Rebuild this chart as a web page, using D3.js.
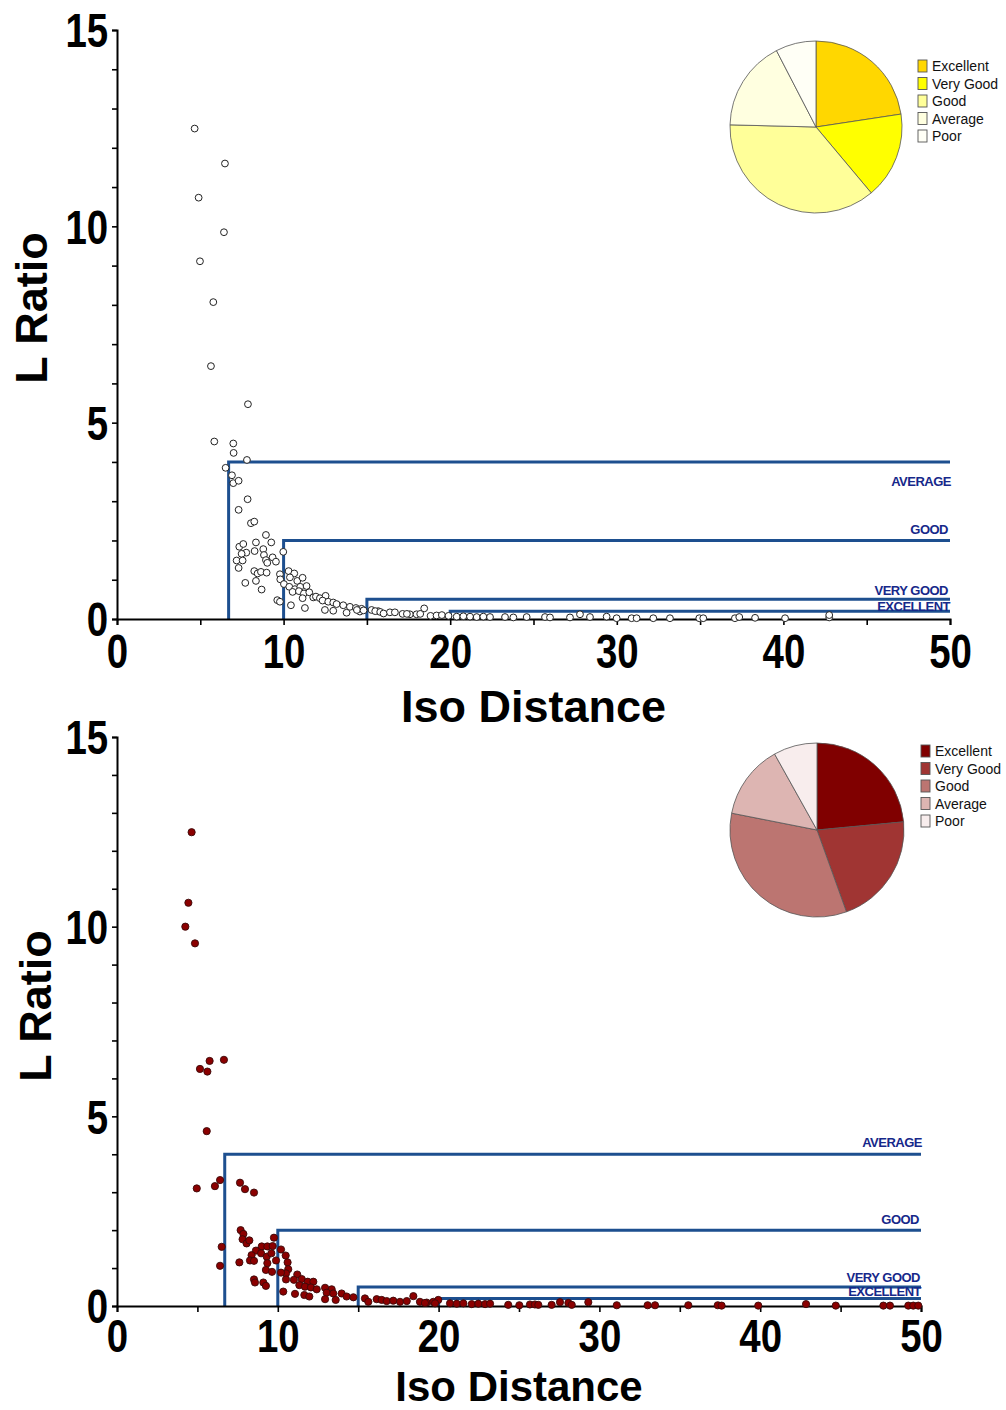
<!DOCTYPE html>
<html><head><meta charset="utf-8">
<script src="https://cdn.jsdelivr.net/npm/d3@7"></script>
<style>
html,body{margin:0;padding:0;background:#fff;}
svg{display:block;font-family:"Liberation Sans",Arial,Helvetica,sans-serif;}
</style></head>
<body><svg id="chart" width="1006" height="1410"></svg>
<script>
// ---------- DATA ----------
const qualityCategories = ["Excellent","Very Good","Good","Average","Poor"];
const thresholdIso = [6.7, 10, 15, 20];
const thresholdL = [4, 2, 0.5, 0.2];
const thresholdLabels = ["AVERAGE","GOOD","VERY GOOD","EXCELLENT"];
const xTicks = [0,5,10,15,20,25,30,35,40,45,50];
const yTicks = [0,1,2,3,4,5,6,7,8,9,10,11,12,13,14,15];

const topPieShares = [0.226, 0.163, 0.365, 0.170, 0.076];
const topPieColors = ["#FFD700","#FFFF00","#FFFF99","#FFFFE0","#FFFFF6"];
const botPieShares = [0.235, 0.210, 0.336, 0.138, 0.081];
const botPieColors = ["#800000","#A03533","#BC7571","#DDB5B2","#F8EDED"];

const topIso = [4.66,6.48,4.9,6.42,4.98,5.78,5.64,7.86,5.84,6.98,7.0,7.8,6.52,6.9,6.98,7.3,7.84,7.3,8.04,8.24,8.94,9.26,7.34,7.58,8.34,7.76,7.48,8.78,8.82,8.26,8.94,9.34,9.54,7.18,7.54,7.3,9.02,8.24,8.44,8.64,8.98,7.7,8.34,8.68,9.98,9.78,9.8,10.3,10.64,10.38,10.82,11.14,10.02,10.34,10.68,11.0,11.38,10.54,10.92,11.22,11.54,11.78,11.94,12.18,12.52,11.14,12.34,12.68,12.98,13.18,13.58,13.98,14.34,14.68,9.62,9.78,10.44,11.28,12.48,12.98,13.78,14.58,15.28,15.68,16.38,16.68,17.14,17.58,17.98,18.44,18.82,19.18,14.4,14.8,15.5,15.8,16.0,17.4,18.2,19.5,19.9,20.39,20.79,21.19,21.59,21.99,22.39,23.29,23.79,24.59,25.69,25.99,27.19,27.79,28.39,29.39,29.99,30.89,31.19,32.19,33.19,34.95,35.19,37.09,37.35,38.3,40.1,42.75,42.75];
const topLRatio = [12.49,11.6,10.73,9.85,9.11,8.07,6.44,5.47,4.52,4.47,4.23,4.05,3.85,3.66,3.46,3.52,3.05,2.78,2.44,2.48,2.14,1.95,1.84,1.91,1.95,1.69,1.66,1.78,1.63,1.73,1.50,1.57,1.46,1.49,1.49,1.30,1.43,1.22,1.16,1.20,1.18,0.92,0.97,0.75,1.71,1.14,1.01,1.22,1.16,1.06,0.97,1.05,0.89,0.82,0.76,0.82,0.84,0.69,0.71,0.65,0.68,0.55,0.57,0.53,0.59,0.53,0.47,0.44,0.42,0.38,0.35,0.31,0.28,0.26,0.48,0.44,0.35,0.28,0.23,0.21,0.16,0.19,0.23,0.20,0.17,0.17,0.13,0.12,0.12,0.27,0.08,0.09,0.23,0.22,0.2,0.18,0.14,0.13,0.13,0.1,0.08,0.06,0.07,0.06,0.05,0.06,0.05,0.05,0.04,0.05,0.05,0.04,0.04,0.12,0.05,0.06,0.02,0.02,0.02,0.02,0.02,0.02,0.02,0.02,0.05,0.03,0.02,0.04,0.1];

const botIso = [4.64,4.44,4.25,4.85,5.16,5.62,5.76,6.65,5.58,4.96,6.09,6.41,7.65,7.96,8.52,6.51,6.41,7.61,7.69,7.86,7.81,8.06,8.23,9.0,9.35,9.68,9.76,8.64,8.37,8.96,9.31,9.6,8.27,8.52,9.35,9.26,9.64,9.89,8.52,8.58,9.1,9.26,10.2,10.49,10.61,10.65,10.51,10.2,10.51,11.21,11.0,11.49,11.86,12.21,11.34,11.69,12.06,12.42,12.94,13.35,13.04,13.45,13.97,14.28,14.7,10.34,11.07,11.65,11.96,12.94,13.6,15.42,15.63,16.15,16.46,16.77,17.18,17.6,18.02,18.43,18.84,19.26,19.67,19.98,19.15,19.78,20.71,21.13,21.54,22.06,22.47,22.89,23.2,24.33,25.02,25.68,25.99,26.2,27.03,27.55,28.07,28.28,29.31,31.08,33.0,33.46,35.53,37.36,37.6,39.88,42.85,44.7,47.66,48.07,49.21,49.52,49.83];
const botLRatio = [12.49,10.63,10.0,9.56,6.25,6.18,6.46,6.49,4.61,3.10,3.16,3.32,3.25,3.08,2.99,1.56,1.06,1.15,2.0,1.90,1.76,1.65,1.73,1.57,1.57,1.58,1.80,1.46,1.34,1.39,1.30,1.39,1.20,1.19,1.13,0.95,0.90,1.20,0.70,0.62,0.62,0.53,1.49,1.33,1.15,0.97,0.86,0.88,0.70,0.83,0.69,0.71,0.64,0.64,0.55,0.51,0.49,0.44,0.48,0.44,0.35,0.33,0.33,0.25,0.23,0.38,0.32,0.29,0.25,0.18,0.16,0.2,0.11,0.18,0.16,0.13,0.14,0.11,0.13,0.26,0.11,0.09,0.11,0.16,0.08,0.07,0.07,0.06,0.07,0.05,0.06,0.05,0.06,0.03,0.02,0.04,0.04,0.03,0.03,0.1,0.08,0.03,0.1,0.02,0.02,0.02,0.02,0.02,0.01,0.01,0.05,0.01,0.01,0.01,0.01,0.01,0.01];

// ---------- DRAW ----------
const svg = d3.select("#chart");
const FONT = '"Liberation Sans",Arial,Helvetica,sans-serif';
const lineColor = "#1d4f8f";
const labelColor = "#16288a";

function panel(cfg){
  const g = svg.append("g");
  const x = d3.scaleLinear().domain([0,50]).range([cfg.left, cfg.right]);
  const y = d3.scaleLinear().domain([0,15]).range([cfg.bottom, cfg.top]);

  // threshold step lines
  thresholdIso.forEach((iso,i)=>{
    g.append("path")
      .attr("d", d3.line()([[x(iso), y(0)],[x(iso), y(thresholdL[i])],[x(50), y(thresholdL[i])]]))
      .attr("fill","none").attr("stroke", lineColor).attr("stroke-width",3);
    g.append("text")
      .attr("x", x(50) + cfg.labelDx[i])
      .attr("y", y(thresholdL[i]) + cfg.labelDy[i])
      .attr("text-anchor","end")
      .attr("font-family",FONT).attr("font-weight","bold")
      .attr("font-size",13).attr("letter-spacing","-0.5")
      .attr("fill",labelColor)
      .text(thresholdLabels[i]);
  });

  // axes
  const xAxis = d3.axisBottom(x).tickValues(xTicks).tickSize(6).tickPadding(cfg.xTickPad)
    .tickFormat(d => d % 10 === 0 ? d : "");
  const gx = g.append("g").attr("transform",`translate(0,${cfg.bottom})`).call(xAxis);
  const yAxis = d3.axisLeft(y).tickValues(yTicks).tickSize(5).tickPadding(6)
    .tickFormat(d => d % 5 === 0 ? d : "");
  const gy = g.append("g").attr("transform",`translate(${cfg.left},0)`).call(yAxis);
  [gx,gy].forEach(a=>{
    a.select(".domain").attr("stroke","#000").attr("stroke-width",2);
    a.selectAll(".tick line").attr("stroke","#000").attr("stroke-width",1.6);
    a.selectAll(".tick text").attr("font-family",FONT).attr("font-weight","bold")
      .attr("fill","#000");
  });
  gy.selectAll(".tick text").attr("font-size",48)
    .attr("transform","scale(0.8,1)").attr("dy","0.35em").attr("x",-11);
  gx.selectAll(".tick text").attr("font-size",cfg.xTickSize)
    .attr("transform",`scale(${(0.8*48/cfg.xTickSize).toFixed(3)},1)`);

  // points
  const pts = d3.zip(cfg.iso, cfg.lr);
  g.append("g").selectAll("circle").data(pts).join("circle")
    .attr("cx", d=>x(d[0])).attr("cy", d=>y(d[1])).attr("r", cfg.r)
    .attr("fill", cfg.ptFill).attr("stroke", cfg.ptStroke).attr("stroke-width", cfg.ptSW);

  // axis titles
  g.append("text").attr("x",(cfg.left+cfg.right)/2).attr("y",cfg.xTitleY)
    .attr("text-anchor","middle").attr("font-family",FONT).attr("font-weight","bold")
    .attr("font-size",cfg.xTitleSize).attr("fill","#000").text("Iso Distance");
  g.append("text").attr("transform",`translate(${cfg.yTitleX},${cfg.yTitleY}) rotate(-90)`)
    .attr("text-anchor","middle").attr("font-family",FONT).attr("font-weight","bold")
    .attr("font-size",45).attr("fill","#000").text("L Ratio");

  // pie
  const pie = d3.pie().sort(null)(cfg.shares);
  const arc = d3.arc().innerRadius(0).outerRadius(cfg.pieR);
  const pg = g.append("g").attr("transform",`translate(${cfg.pieCx},${cfg.pieCy})`);
  pg.selectAll("path").data(pie).join("path")
    .attr("d", arc).attr("fill",(d,i)=>cfg.colors[i])
    .attr("stroke","#555").attr("stroke-width",0.8);

  // legend
  const lg = g.append("g");
  qualityCategories.forEach((c,i)=>{
    const cy = cfg.legY + i*17.5;
    lg.append("rect").attr("x",cfg.legX).attr("y",cy-6).attr("width",9).attr("height",12)
      .attr("fill",cfg.colors[i]).attr("stroke","#555").attr("stroke-width",0.9);
    lg.append("text").attr("x",cfg.legX+14).attr("y",cy+5)
      .attr("font-family",FONT).attr("font-size",14).attr("fill","#111").text(c);
  });
}

panel({left:117,right:950,top:30,bottom:619,
  iso:topIso, lr:topLRatio, r:3.4, ptFill:"#fff", ptStroke:"#222", ptSW:1,
  labelDx:[1,-2,-2,0], labelDy:[24,-6,-4,0],
  xTickSize:48, xTickPad:9,
  xTitleY:722, xTitleSize:45, yTitleX:47, yTitleY:308,
  shares:topPieShares, colors:topPieColors, pieCx:816, pieCy:127, pieR:86,
  legX:918, legY:66});

panel({left:117,right:921,top:737,bottom:1306,
  iso:botIso, lr:botLRatio, r:3.6, ptFill:"#8b0000", ptStroke:"#3a0a0a", ptSW:0.9,
  labelDx:[1,-2,-1,0], labelDy:[-7,-6,-5,-2],
  xTickSize:46, xTickPad:7,
  xTitleY:1401, xTitleSize:42, yTitleX:51, yTitleY:1006,
  shares:botPieShares, colors:botPieColors, pieCx:817, pieCy:830, pieR:87,
  legX:921, legY:751});
</script></body></html>
